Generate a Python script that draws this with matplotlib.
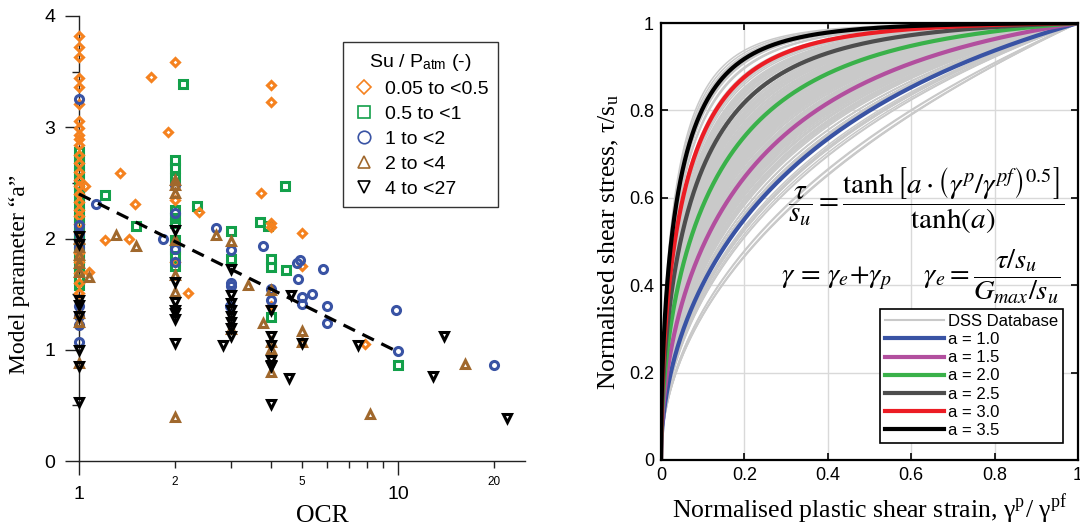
import numpy as np
import matplotlib
matplotlib.use("Agg")
import matplotlib.pyplot as plt
from matplotlib.lines import Line2D
from matplotlib.ticker import FixedLocator, FuncFormatter

plt.rcParams['font.family'] = ['Liberation Sans', 'DejaVu Sans']
plt.rcParams['mathtext.fontset'] = 'stix'

# ---------------- Left panel data: OCR vs model parameter "a" ----------------
# Su/Patm 0.05 to <0.5 (orange diamonds)
ocr_orange = [1]*28 + [1.044, 1.075, 1.21, 1.345, 1.43, 1.5, 1.68, 1.905, 2.0, 2.0, 2.0, 2.19, 2.38,
                       3.72, 4.0, 4.0, 4.0, 4.0, 4.0, 5.0, 5.0, 7.9]
a_orange = [3.82, 3.72, 3.63, 3.44, 3.36, 3.21, 3.06, 2.99, 2.93, 2.89, 2.84, 2.75, 2.68, 2.60,
            2.53, 2.47, 2.40, 2.33, 2.26, 2.20, 2.13, 2.06, 1.96, 1.87, 1.79, 1.69, 1.60, 1.51,
            2.47, 1.70, 1.99, 2.59, 2.0, 2.31, 3.45, 2.96, 3.59, 2.35, 1.79, 1.51, 2.24,
            2.41, 3.38, 3.23, 2.14, 2.10, 1.39, 2.05, 1.755, 1.05]
# Su/Patm 0.5 to <1 (green squares)
ocr_green = [1]*21 + [1.21, 1.505, 2.0, 2.0, 2.0, 2.0, 2.0, 2.0, 2.0, 2.0, 2.0, 2.0, 2.12, 2.35,
                      3.0, 3.0, 3.69, 3.9, 4.0, 4.0, 4.0, 4.43, 4.47, 10.0]
a_green = [2.78, 2.72, 2.66, 2.60, 2.54, 2.48, 2.42, 2.36, 2.30, 2.24, 2.18, 2.12, 2.06, 2.00,
           1.94, 1.88, 1.82, 1.76, 1.70, 1.64, 1.58,
           2.39, 2.11, 2.705, 2.63, 2.54, 2.26, 2.18, 2.14, 1.99, 1.91, 1.84, 1.75, 3.39, 2.29,
           2.07, 1.82, 2.15, 2.11, 1.82, 1.74, 1.29, 2.47, 1.72, 0.86]
# Su/Patm 1 to <2 (blue circles)
ocr_blue = [1]*9 + [1.13, 1.83, 2.0, 2.0, 2.0, 2.0, 2.68, 3.0, 3.0, 3.0, 2.97, 3.76, 4.0, 4.0,
                    4.83, 4.93, 4.85, 5.0, 5.0, 5.39, 5.83, 6.0, 6.0, 9.86, 10.0, 20.0]
a_blue = [3.25, 2.12, 2.05, 1.98, 1.92, 1.39, 1.30, 1.22, 1.07,
          2.31, 2.0, 2.48, 2.23, 1.91, 1.79, 2.09, 1.90, 1.60, 1.57, 1.39, 1.93, 1.55, 1.45,
          1.78, 1.81, 1.64, 1.47, 1.41, 1.50, 1.73, 1.39, 1.24, 1.36, 0.99, 0.86]
# Su/Patm 2 to <4 (brown up-triangles)
ocr_brown = [1]*8 + [1.075, 1.31, 1.51, 2.0, 2.0, 2.0, 2.0, 2.0, 2.0, 2.0, 2.69, 3.0, 3.0, 3.39,
                     3.78, 4.0, 4.0, 4.0, 4.0, 5.0, 5.0, 8.14, 16.2]
a_brown = [2.00, 1.92, 1.85, 1.78, 1.70, 1.33, 1.25, 0.88,
           1.65, 2.03, 1.93, 2.53, 2.48, 2.41, 1.99, 1.67, 1.52, 0.40, 2.03, 1.98, 1.19, 1.58,
           1.24, 1.54, 1.07, 1.01, 0.80, 1.17, 1.07, 0.42, 0.87]
# Su/Patm 4 to <27 (black down-triangles)
ocr_black = [1]*8 + [2.0, 2.0, 2.0, 2.0, 2.0, 2.0, 2.0, 2.83, 3.0, 3.0, 3.0, 3.0, 3.0, 3.0, 3.0,
                     3.0, 4.0, 4.0, 4.0, 4.0, 4.0, 4.0, 4.0, 4.61, 4.56, 5.0, 7.5, 12.83, 13.9, 22.0]
a_black = [2.02, 1.95, 1.45, 1.40, 1.30, 1.00, 0.85, 0.53,
           2.08, 1.61, 1.43, 1.36, 1.33, 1.28, 1.06, 1.04, 1.73, 1.49, 1.42, 1.36, 1.30, 1.25,
           1.20, 1.12, 1.36, 1.12, 1.04, 0.91, 0.86, 0.85, 0.51, 1.49, 0.75, 1.06, 1.04, 0.76,
           1.12, 0.39]
# dashed trend line
trend_ocr = [1.0, 10.0]
trend_a = [2.40, 0.98]

legend_labels = ["0.05 to <0.5", "0.5 to <1", "1 to <2", "2 to <4", "4 to <27"]

# ---------------- Right panel data ----------------
model_a = [1.0, 1.5, 2.0, 2.5, 3.0, 3.5]
model_colors = ['#3953A4', '#B24F9E', '#3AB14A', '#4D4D4D', '#EC1C24', '#000000']
xticks_r = [0, 0.2, 0.4, 0.6, 0.8, 1.0]
xticklabels_r = ['0', '0.2', '0.4', '0.6', '0.8', '1']

C_OR = '#F5821F'
C_GR = '#13A04A'
C_BL = '#3953A4'
C_BR = '#A0682D'
C_BK = '#000000'

fig = plt.figure(figsize=(10.8, 5.32), dpi=100)

# ================= LEFT =================
ax1 = fig.add_axes([79/1080, 71/532, 446/1080, 445/532])
ax1.set_xscale('log')
ax1.set_xlim(1, 25)
ax1.set_ylim(0, 4)
for s in ['top', 'right']:
    ax1.spines[s].set_visible(False)
for s in ['left', 'bottom']:
    ax1.spines[s].set_linewidth(1.0)
    ax1.spines[s].set_color('#222222')

mk = dict(linestyle='none', clip_on=False, markerfacecolor='none')
ax1.plot(ocr_green, a_green, marker='s', ms=5.4, mew=2.2, color=C_GR, zorder=3, **mk)
ax1.plot(ocr_orange, a_orange, marker='D', ms=4.5, mew=2.2, color=C_OR, zorder=4, **mk)
ax1.plot(ocr_blue, a_blue, marker='o', ms=5.8, mew=2.2, color=C_BL, zorder=4, **mk)
ax1.plot(ocr_brown, a_brown, marker='^', ms=6.4, mew=2.2, color=C_BR, zorder=4, **mk)
ax1.plot(ocr_black, a_black, marker='v', ms=6.4, mew=2.2, color=C_BK, zorder=4, **mk)
ax1.plot(trend_ocr, trend_a, color='black', lw=2.3, dashes=(4, 2.6), zorder=5, clip_on=False)

ax1.xaxis.set_major_locator(FixedLocator([1, 10]))
ax1.xaxis.set_minor_locator(FixedLocator([2, 3, 4, 5, 6, 7, 8, 9, 20]))
ax1.xaxis.set_major_formatter(FuncFormatter(lambda v, p: '%d' % round(v)))
ax1.xaxis.set_minor_formatter(FuncFormatter(lambda v, p: '%d' % round(v) if round(v) in (2, 5, 20) else ''))
ax1.set_yticks([0, 1, 2, 3, 4])
ax1.set_yticks([0.5, 1.5, 2.5, 3.5], minor=True)
ax1.tick_params(axis='both', which='major', direction='out', length=10, width=1, labelsize=14, color='#222222')
ax1.tick_params(axis='both', which='minor', direction='out', length=5, width=1, color='#222222')
ax1.tick_params(axis='x', which='major', pad=8)
ax1.tick_params(axis='x', which='minor', labelsize=8.5, pad=6)
ax1.tick_params(axis='y', which='major', pad=7)

ax1.set_ylabel('Model parameter “a”', family='Liberation Serif', fontsize=17)
ax1.yaxis.set_label_coords(-0.11, 0.42)
ax1.set_xlabel('OCR', family='Liberation Serif', fontsize=18.5)
ax1.xaxis.set_label_coords(0.545, -0.1)

handles = [
    Line2D([], [], marker='D', ms=7, mew=1.2, color=C_OR, mfc='none', ls='none'),
    Line2D([], [], marker='s', ms=8.5, mew=1.2, color=C_GR, mfc='none', ls='none'),
    Line2D([], [], marker='o', ms=9, mew=1.2, color=C_BL, mfc='none', ls='none'),
    Line2D([], [], marker='^', ms=9, mew=1.2, color=C_BR, mfc='none', ls='none'),
    Line2D([], [], marker='v', ms=9, mew=1.2, color=C_BK, mfc='none', ls='none'),
]
leg1 = fig.legend(handles, legend_labels, title='Su / P$_{\\mathregular{atm}}$ (-)',
                  loc='upper left', bbox_to_anchor=(343/1080, 1 - 42/532),
                  fontsize=14, title_fontsize=14, frameon=True, fancybox=False,
                  edgecolor='#333333', framealpha=1, handletextpad=0.45, labelspacing=0.38,
                  borderpad=0.5, handlelength=1.2, borderaxespad=0)
leg1.get_frame().set_linewidth(1.0)

# ================= RIGHT =================
ax2 = fig.add_axes([661/1080, 72/532, 417/1080, 437/532])
ax2.set_xlim(0, 1)
ax2.set_ylim(0, 1)
x = np.linspace(0, 1, 600) ** 2

db_a = a_orange + a_green + a_blue + a_brown + a_black
for av in db_a:
    ax2.plot(x, np.tanh(av * np.sqrt(x)) / np.tanh(av), color='#C9C9C9', lw=1.1, zorder=2)

model_lines = []
for av, c in zip(model_a, model_colors):
    ln, = ax2.plot(x, np.tanh(av * np.sqrt(x)) / np.tanh(av), color=c, lw=3.0, zorder=3)
    model_lines.append(ln)

ax2.set_xticks(xticks_r)
ax2.set_xticklabels(xticklabels_r)
ax2.set_yticks(xticks_r)
ax2.set_yticklabels(xticklabels_r)
ax2.grid(True, color='#D9D9D9', lw=1.0, zorder=0)
ax2.set_axisbelow(True)
ax2.tick_params(direction='in', length=5, width=1.2, top=True, right=True, labelsize=13, pad=5)
for s in ax2.spines.values():
    s.set_linewidth(1.6)
    s.set_zorder(6)

ax2.set_xlabel('Normalised plastic shear strain, γ$^{\\mathregular{p}}$/ γ$^{\\mathregular{pf}}$',
               family='Liberation Serif', fontsize=18.5, labelpad=6)
ax2.set_ylabel('Normalised shear stress, τ/s$_{\\mathregular{u}}$',
               family='Liberation Serif', fontsize=18.5, labelpad=6)

ax2.text(0.635, 0.593,
         r'$\dfrac{\tau}{s_u} = \dfrac{\tanh\left[a\cdot\left(\gamma^p/\gamma^{pf}\right)^{0.5}\right]}{\tanh(a)}$',
         fontsize=21, ha='center', va='center', zorder=7)
ax2.text(0.622, 0.418,
         r'$\gamma\,=\,\gamma_e{+}\gamma_p\quad\;\;\gamma_e = \dfrac{\tau/s_u}{G_{max}/s_u}$',
         fontsize=20.5, ha='center', va='center', zorder=7)

db_handle = Line2D([], [], color='#C9C9C9', lw=1.5)
leg2 = ax2.legend([db_handle] + model_lines,
                  ['DSS Database'] + ['a = %.1f' % v for v in model_a],
                  loc='lower right', bbox_to_anchor=(1063/1080, 1 - 443/532),
                  bbox_transform=fig.transFigure, fontsize=12, frameon=True,
                  fancybox=False, edgecolor='black', framealpha=1, handlelength=3.5,
                  handletextpad=0.25, labelspacing=0.19, borderpad=0.3, borderaxespad=0)
leg2.get_frame().set_linewidth(1.2)
leg2.set_zorder(8)

fig.savefig('out.png', dpi=100)
